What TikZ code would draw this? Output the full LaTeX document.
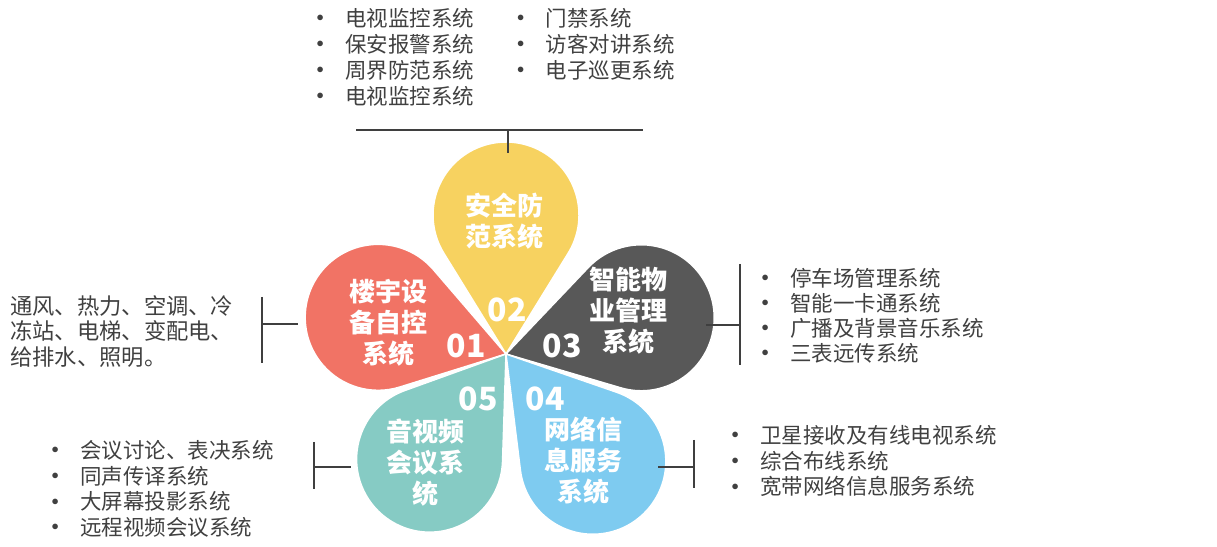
\documentclass[tikz,border=0pt]{standalone}
\usepackage{fontspec}
\setmainfont{Noto Sans CJK SC}
\usetikzlibrary{positioning}
\definecolor{mred}{HTML}{F17365}
\definecolor{myellow}{HTML}{F7D260}
\definecolor{mdark}{HTML}{585858}
\definecolor{mblue}{HTML}{7ECBF0}
\definecolor{mteal}{HTML}{86CBC4}
\definecolor{mtext}{HTML}{404040}
\definecolor{mline}{HTML}{3F3F3F}
\newcommand\itm{\makebox[28.5pt][l]{\raisebox{4.5pt}{\fontsize{14}{14}\selectfont$\bullet$}}}
\tikzset{
  petal/.style={draw=white, line width=1.5pt},
  ptext/.style={text=white, font=\fontsize{26}{31}\selectfont\bfseries,
                align=center, inner sep=0pt},
  pnum/.style={text=white, font=\fontsize{32}{32}\selectfont\bfseries, inner sep=0pt},
  blist/.style={text=mtext, font=\fontsize{21.5}{26}\selectfont, align=left,
                anchor=north west, inner sep=0pt},
  brk/.style={draw=mline, line width=1.2pt},
}

\begin{document}
\begin{tikzpicture}[x=1pt, y=1pt]
  \useasboundingbox (0,0) rectangle (1217,546);
  \coordinate (ctr) at (506,192);

  \foreach \ang/\dist/\col in {164/133/mred, 90/139/myellow, 15/140/mdark,
                               -51/138/mblue, -126/130/mteal}{
    \pgfmathsetmacro\bet{acos(73/\dist)}
    \pgfmathsetmacro\tx{\dist-73*73/\dist}
    \pgfmathsetmacro\ty{-73*sin(\bet)}
    \begin{scope}[shift={(ctr)}, rotate=\ang]
      \filldraw[petal, fill=\col] (0,0) -- (\tx,\ty)
        arc[start angle=\bet-180, end angle=180-\bet, radius=73] -- cycle;
    \end{scope}
  }

  \node[ptext] (s01) at (388,223) {楼宇设\\备自控\\系统};
  \node[ptext] (s02) at (504,325) {安全防\\范系统};
  \node[ptext] (s03) at (628,235) {智能物\\业管理\\系统};
  \node[ptext] (s04) at (583,85) {网络信\\息服务\\系统};
  \node[ptext] (s05) at (425,83) {音视频\\会议系\\统};

  \node[pnum] (n01) at (466,200) {01};
  \node[pnum] (n02) at (507,236) {02};
  \node[pnum] (n03) at (562,200) {03};
  \node[pnum] (n04) at (545,147) {04};
  \node[pnum] (n05) at (478,147) {05};

  \node[blist] (l2a) at (316.5,538)
    {\itm 电视监控系统\\\itm 保安报警系统\\\itm 周界防范系统\\\itm 电视监控系统};
  \node[blist] (l2b) at (517,538)
    {\itm 门禁系统\\\itm 访客对讲系统\\\itm 电子巡更系统};
  \node[blist, font=\fontsize{22.3}{25.5}\selectfont] (l1) at (10,251)
    {通风、热力、空调、冷\\冻站、电梯、变配电、\\给排水、照明。};
  \node[blist, font=\fontsize{21.5}{25}\selectfont] (l3) at (761.5,278)
    {\itm 停车场管理系统\\\itm 智能一卡通系统\\\itm 广播及背景音乐系统\\\itm 三表远传系统};
  \node[blist, font=\fontsize{21.5}{25.7}\selectfont] (l5) at (51.5,106)
    {\itm 会议讨论、表决系统\\\itm 同声传译系统\\\itm 大屏幕投影系统\\\itm 远程视频会议系统};
  \node[blist, font=\fontsize{21.5}{25.8}\selectfont] (l4) at (731.5,121)
    {\itm 卫星接收及有线电视系统\\\itm 综合布线系统\\\itm 宽带网络信息服务系统};

  % brackets
  \coordinate (b2l) at (356,416);
  \coordinate (b2r) at (643,416);
  \coordinate (b2m) at (508,416);
  \coordinate (b2p) at (508,393);
  \draw[brk] (b2l) -- (b2r);
  \draw[brk] (b2m) -- (b2p);

  \coordinate (b1t) at (262,249);
  \coordinate (b1b) at (262,183);
  \coordinate (b1m) at (262,222);
  \coordinate (b1p) at (298,222);
  \draw[brk] (b1t) -- (b1b);
  \draw[brk] (b1m) -- (b1p);

  \coordinate (b3t) at (740,282);
  \coordinate (b3b) at (740,181);
  \coordinate (b3m) at (740,221);
  \coordinate (b3p) at (706,221);
  \draw[brk] (b3t) -- (b3b);
  \draw[brk] (b3m) -- (b3p);

  \coordinate (b5t) at (314,104);
  \coordinate (b5b) at (314,57);
  \coordinate (b5m) at (314,79);
  \coordinate (b5p) at (351,79);
  \draw[brk] (b5t) -- (b5b);
  \draw[brk] (b5m) -- (b5p);

  \coordinate (b4t) at (694,106);
  \coordinate (b4b) at (694,58);
  \coordinate (b4m) at (694,79);
  \coordinate (b4p) at (658,79);
  \draw[brk] (b4t) -- (b4b);
  \draw[brk] (b4m) -- (b4p);
\end{tikzpicture}
\end{document}
